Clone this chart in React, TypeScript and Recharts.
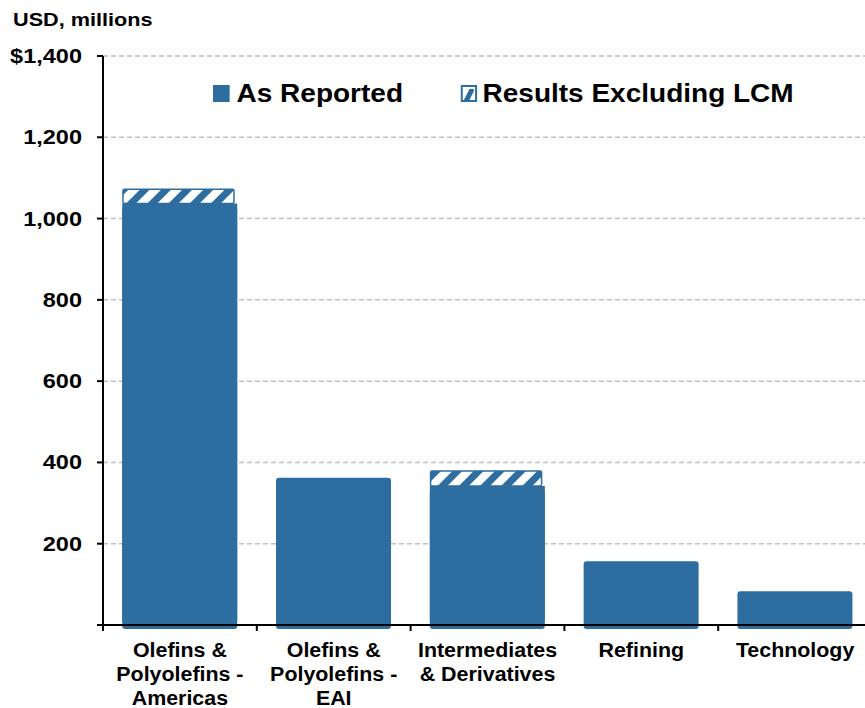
import { Bar, BarChart, CartesianGrid, XAxis, YAxis, ReferenceLine } from 'recharts'

const categoryLines = [
  ['Olefins &', 'Polyolefins -', 'Americas'],
  ['Olefins &', 'Polyolefins -', 'EAI'],
  ['Intermediates', '& Derivatives'],
  ['Refining'],
  ['Technology'],
]
const asReported = [1037, 362, 342, 157, 83]
const excludingLcm = [1074, 362, 381, 157, 83]
const yTicks = [0, 200, 400, 600, 800, 1000, 1200, 1400]
const seriesNames = ['As Reported', 'Results Excluding LCM']

const BLUE = '#2e6da0'
const FONT = '"Liberation Sans", Arial, sans-serif'
const CHART_W = 872
const AXIS_W = 103
const BAND = (CHART_W - AXIS_W) / categoryLines.length

const data = categoryLines.map((lines, i) => ({
  name: lines.join(' '),
  reported: asReported[i],
  lcm: excludingLcm[i] - asReported[i],
}))

function SolidBar(props: any) {
  const { x, y, width, height, payload } = props
  if (!height) return null
  if (payload.lcm > 0) {
    return (
      <g>
        <rect x={x} y={y + 4} width={width} height={height} rx={3} fill={BLUE} />
        <rect x={x} y={y} width={width} height={height - 4} fill={BLUE} />
      </g>
    )
  }
  return <rect x={x} y={y} width={width} height={height + 4} rx={3} fill={BLUE} />
}

function HatchBar(props: any) {
  const { x, y, width, height } = props
  if (!height || height <= 0) return null
  return (
    <rect x={x + 0.75} y={y + 0.75} width={width - 4} height={height - 0.75} rx={1.5}
      fill="url(#lcmHatch)" stroke={BLUE} strokeWidth={1.5} />
  )
}

function CategoryTick(props: any) {
  const { x, y, payload, index } = props
  const lines = categoryLines[index] ?? [payload.value]
  const left = x - BAND / 2
  return (
    <g>
      <line x1={left} x2={left} y1={y} y2={y + 6} stroke="#000" strokeWidth={2} />
      {index === categoryLines.length - 1 && (
        <line x1={x + BAND / 2} x2={x + BAND / 2} y1={y} y2={y + 6} stroke="#000" strokeWidth={2} />
      )}
      <text transform={`translate(${x},${y}) scale(1.07,1)`} textAnchor="middle" fontFamily={FONT}
        fontWeight="bold" fontSize={20} fill="#000">
        {lines.map((l: string, i: number) => (
          <tspan key={i} x={0} y={32 + i * 24}>{l}</tspan>
        ))}
      </text>
    </g>
  )
}

function ValueTick(props: any) {
  const { x, y, payload } = props
  return (
    <text transform={`translate(${x},${y}) scale(1.12,1)`} textAnchor="end" dominantBaseline="central"
      fontFamily={FONT} fontWeight="bold" fontSize={21} fill="#000">
      {fmtY(payload.value)}
    </text>
  )
}

function fmtY(v: number) {
  if (v === 0) return ''
  const s = v.toLocaleString('en-US')
  return v === 1400 ? '$' + s : s
}

function Legend() {
  return (
    <div style={{ position: 'absolute', left: 213, top: 79, display: 'flex', alignItems: 'center',
      fontFamily: FONT, fontWeight: 'bold', fontSize: 25, color: '#000', whiteSpace: 'nowrap',
      transform: 'scaleX(1.12)', transformOrigin: 'left center' }}>
      <svg width={15} height={17} style={{ marginRight: 6 }}>
        <rect width={15} height={17} fill={BLUE} />
      </svg>
      <span style={{ marginRight: 51 }}>{seriesNames[0]}</span>
      <svg width={15} height={17} style={{ marginRight: 5 }}>
        <rect x={1} y={1} width={13} height={15} fill="#fff" stroke={BLUE} strokeWidth={2} />
        <polygon points="3,15 8,4 12,4 12,6 8,15" fill={BLUE} />
      </svg>
      <span>{seriesNames[1]}</span>
    </div>
  )
}

export default function App() {
  return (
    <div style={{ position: 'absolute', left: 0, top: 0, width: 865, height: 708, overflow: 'hidden', background: '#fff' }}>
      <div style={{ position: 'absolute', left: 13, top: 9, fontFamily: FONT, fontWeight: 'bold', fontSize: 19,
        transform: 'scaleX(1.14)', transformOrigin: 'left center', whiteSpace: 'nowrap' }}>
        USD, millions
      </div>
      <BarChart width={CHART_W} height={708} data={data} barCategoryGap="12.5%"
        margin={{ top: 56, right: 0, bottom: 0, left: 0 }}>
        <defs>
          <pattern id="lcmHatch" patternUnits="userSpaceOnUse" width={15} height={15} patternTransform="rotate(45)">
            <rect width={15} height={15} fill={BLUE} />
            <rect width={8} height={15} fill="#fff" />
          </pattern>
        </defs>
        <CartesianGrid vertical={false} stroke="#c0c0c0" strokeWidth={1.5} strokeDasharray="5 3" />
        <YAxis width={AXIS_W} domain={[0, 1400]} ticks={yTicks}
          axisLine={{ stroke: '#000', strokeWidth: 2 }} tickLine={{ stroke: '#000', strokeWidth: 2 }}
          tickSize={6} tickMargin={15} tick={<ValueTick />} />
        <Bar dataKey="reported" stackId="a" fill={BLUE} shape={<SolidBar />} isAnimationActive={false} />
        <Bar dataKey="lcm" stackId="a" fill={BLUE} shape={<HatchBar />} isAnimationActive={false} />
        <XAxis dataKey="name" height={83} interval={0} tickLine={false} tickSize={0} tickMargin={0}
          axisLine={false} tick={<CategoryTick />} />
        <ReferenceLine y={0} stroke="#000" strokeWidth={2} />
      </BarChart>
      <Legend />
    </div>
  )
}
